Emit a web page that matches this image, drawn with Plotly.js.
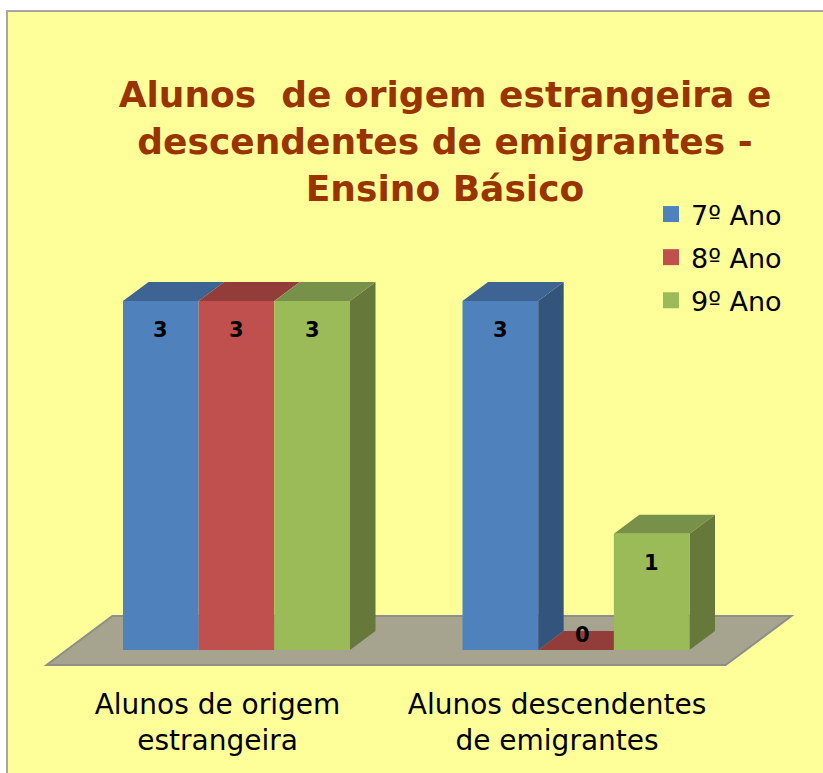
<!DOCTYPE html>
<html>
<head>
<meta charset="utf-8">
<script src="https://cdn.plot.ly/plotly-3.0.1.min.js"></script>
<style>
  html, body { margin: 0; padding: 0; background: #ffffff; overflow: hidden; }
  #chart { position: absolute; left: 6px; top: 10px; width: 830px; height: 775px;
           border-left: 2px solid #A6A6A6; border-top: 2px solid #A6A6A6; }
</style>
</head>
<body>
<div id="chart"></div>
<script>
// ---------- data ----------
const categories = ['Alunos de origem<br>estrangeira', 'Alunos descendentes<br>de emigrantes'];
const seriesNames = ['7º Ano', '8º Ano', '9º Ano'];
const ano7 = [3, 3];
const ano8 = [3, 0];
const ano9 = [3, 1];
const titleText = 'Alunos  de origem estrangeira e<br>descendentes de emigrantes -<br>Ensino Básico';

// ---------- styles ----------
const frontColors = ['#4F81BD', '#C0504D', '#9BBB59'];
const topColors   = ['#3E6494', '#933D3B', '#78914A'];
const sideColors  = ['#33547B', '#7A3230', '#66783A'];
const series = [ano7, ano8, ano9];

// ---------- geometry (page pixels -> axis units) ----------
const W = 830, H = 775, OX = 8, OY = 12;
const G1X = 236.5, PXX = 339.5;       // group centre / px per category unit
const BASEY = 650, PXY = 116.33;      // value 0 baseline / px per value unit
const plotL = 40, plotR = 815, plotT = 250, plotB = 670;
const xr = [(plotL - G1X) / PXX, (plotR - G1X) / PXX];
const yr = [(BASEY - plotB) / PXY, (BASEY - plotT) / PXY];
const depthX = 25.5 / PXX, depthY = 19 / PXY;   // 3D depth offset in axis units
const bargap = 1 - 227 / PXX;
const bw = (1 - bargap) / series.length;
const floorF = 15 / 19;                          // floor margin in depth units

const xs = categories.map((c, i) => i);

const traces = [];
series.forEach((vals, s) => {
  traces.push({
    type: 'bar', x: xs, y: vals, name: seriesNames[s], showlegend: false,
    marker: { color: frontColors[s], line: { width: 0 } },
    hoverinfo: 'none'
  });
});
// legend entries
series.forEach((vals, s) => {
  traces.push({
    type: 'scatter', mode: 'markers', x: [null], y: [null], name: seriesNames[s],
    legendgroup: 'g' + s,
    marker: { symbol: 'square', size: 16, color: frontColors[s] },
    hoverinfo: 'none'
  });
});

const shapes = [];
// floor
{
  const x0 = -0.5, x1 = xs.length - 0.5;
  const fx = floorF * depthX, fy = floorF * depthY;
  const p = [
    [x0 - fx, -fy], [x1 - fx, -fy],
    [x1 + depthX + fx, depthY + fy], [x0 + depthX + fx, depthY + fy]
  ];
  shapes.push({
    type: 'path', xref: 'x', yref: 'y', layer: 'below',
    path: 'M' + p.map(q => q[0] + ',' + q[1]).join(' L') + ' Z',
    fillcolor: '#A6A48F', line: { color: '#8E8E8A', width: 2 }
  });
}
const poly = pts => 'M' + pts.map(q => q[0] + ',' + q[1]).join(' L') + ' Z';
xs.forEach((xc, g) => {
  series.forEach((vals, s) => {
    const v = vals[g];
    const xL = xc - (1 - bargap) / 2 + s * bw;
    const xR = xL + bw;
    const next = s + 1 < series.length ? Math.max(series[s + 1][g], 0) : 0;
    if (next < v) {
      shapes.push({
        type: 'path', xref: 'x', yref: 'y', layer: 'below',
        path: poly([[xR, next], [xR, v], [xR + depthX, v + depthY], [xR + depthX, next + depthY]]),
        fillcolor: sideColors[s], line: { width: 0 }
      });
    }
    shapes.push({
      type: 'path', xref: 'x', yref: 'y', layer: 'below',
      path: poly([[xL, v], [xL + depthX, v + depthY], [xR + depthX, v + depthY], [xR, v]]),
      fillcolor: topColors[s], line: { width: 0 }
    });
  });
});

// data labels
const annotations = [];
xs.forEach((xc, g) => {
  series.forEach((vals, s) => {
    const v = vals[g];
    const xm = xc - (1 - bargap) / 2 + (s + 0.5) * bw;
    annotations.push({
      x: xm, y: v, xref: 'x', yref: 'y', text: String(v), showarrow: false,
      xanchor: 'center', yanchor: 'middle',
      xshift: v > 0 ? 0 : 6, yshift: v > 0 ? -29 : 15,
      font: { family: 'DejaVu Sans', size: 21, color: '#000000', weight: 'bold' }
    });
  });
});

const layout = {
  width: W, height: H,
  margin: { l: plotL - OX, r: W - (plotR - OX), t: plotT - OY, b: H - (plotB - OY), pad: 0, autoexpand: false },
  paper_bgcolor: '#FFFF99', plot_bgcolor: 'rgba(0,0,0,0)',
  barmode: 'group', bargap: bargap, bargroupgap: 0,
  title: {
    text: titleText, xref: 'container', yref: 'container',
    x: (445 - OX) / W, xanchor: 'center', y: 1 - (107 - OY) / H, yanchor: 'top',
    font: { family: 'DejaVu Sans', size: 36, color: '#993300', weight: 'bold' }
  },
  xaxis: {
    range: xr, tickmode: 'array', tickvals: xs, ticktext: categories,
    showgrid: false, zeroline: false, showline: false, ticks: '', tickangle: 0,
    automargin: false,
    ticklabelshift: -19, ticklabelstandoff: 15,
    tickfont: { family: 'DejaVu Sans', size: 28, color: '#000000' }
  },
  yaxis: { range: yr, visible: false, showgrid: false, zeroline: false, automargin: false },
  showlegend: true,
  legend: {
    xref: 'container', yref: 'container',
    x: (651 - OX) / W, xanchor: 'left', y: 1 - (190 - OY) / H, yanchor: 'top',
    traceorder: 'grouped', tracegroupgap: 5,
    bgcolor: 'rgba(0,0,0,0)',
    font: { family: 'DejaVu Sans', size: 27, color: '#000000' }
  },
  shapes: shapes,
  annotations: annotations
};

Plotly.newPlot('chart', traces, layout, { staticPlot: true, displayModeBar: false });
</script>
</body>
</html>
